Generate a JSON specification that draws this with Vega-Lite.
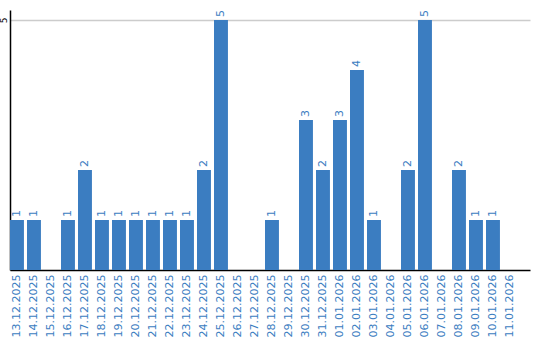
{
  "$schema": "https://vega.github.io/schema/vega-lite/v6.json",
  "width": 520,
  "height": 260,
  "autosize": {"type": "none"},
  "padding": {"left": 10, "top": 10, "right": 10, "bottom": 70},
  "background": "white",
  "config": {"view": {"stroke": null}, "font": "DejaVu Sans"},
  "data": {"values": [
    {"date": "13.12.2025", "count": 1},
    {"date": "14.12.2025", "count": 1},
    {"date": "15.12.2025", "count": 0},
    {"date": "16.12.2025", "count": 1},
    {"date": "17.12.2025", "count": 2},
    {"date": "18.12.2025", "count": 1},
    {"date": "19.12.2025", "count": 1},
    {"date": "20.12.2025", "count": 1},
    {"date": "21.12.2025", "count": 1},
    {"date": "22.12.2025", "count": 1},
    {"date": "23.12.2025", "count": 1},
    {"date": "24.12.2025", "count": 2},
    {"date": "25.12.2025", "count": 5},
    {"date": "26.12.2025", "count": 0},
    {"date": "27.12.2025", "count": 0},
    {"date": "28.12.2025", "count": 1},
    {"date": "29.12.2025", "count": 0},
    {"date": "30.12.2025", "count": 3},
    {"date": "31.12.2025", "count": 2},
    {"date": "01.01.2026", "count": 3},
    {"date": "02.01.2026", "count": 4},
    {"date": "03.01.2026", "count": 1},
    {"date": "04.01.2026", "count": 0},
    {"date": "05.01.2026", "count": 2},
    {"date": "06.01.2026", "count": 5},
    {"date": "07.01.2026", "count": 0},
    {"date": "08.01.2026", "count": 2},
    {"date": "09.01.2026", "count": 1},
    {"date": "10.01.2026", "count": 1},
    {"date": "11.01.2026", "count": 0}
  ]},
  "encoding": {
    "x": {
      "field": "date", "type": "nominal", "sort": null,
      "scale": {"paddingInner": 0.18, "paddingOuter": 0.384, "align": 0},
      "axis": {
        "title": null, "labelAngle": -90, "labelAlign": "right", "labelBaseline": "middle",
        "labelFontSize": 11, "labelColor": "#3b7dc1", "labelPadding": 4,
        "ticks": false, "domainColor": "#000000", "domainWidth": 1.5, "grid": false
      }
    },
    "y": {
      "field": "count", "type": "quantitative",
      "scale": {"domain": [0, 5.2], "nice": false},
      "axis": {
        "title": null, "values": [5], "labelAngle": -90, "labelAlign": "center", "labelBaseline": "bottom",
        "labelFontSize": 9, "labelColor": "#000000", "labelPadding": 2,
        "ticks": false, "domainColor": "#000000", "domainWidth": 1.5,
        "grid": true, "gridColor": "#cccccc", "gridWidth": 1.5
      }
    }
  },
  "layer": [
    {"mark": {"type": "bar", "color": "#3b7dc1"}},
    {
      "transform": [{"filter": "datum.count > 0"}],
      "mark": {"type": "text", "angle": 270, "align": "left", "baseline": "middle", "dx": 3, "fontSize": 11, "color": "#3b7dc1"},
      "encoding": {"text": {"field": "count", "type": "quantitative"}}
    }
  ]
}
